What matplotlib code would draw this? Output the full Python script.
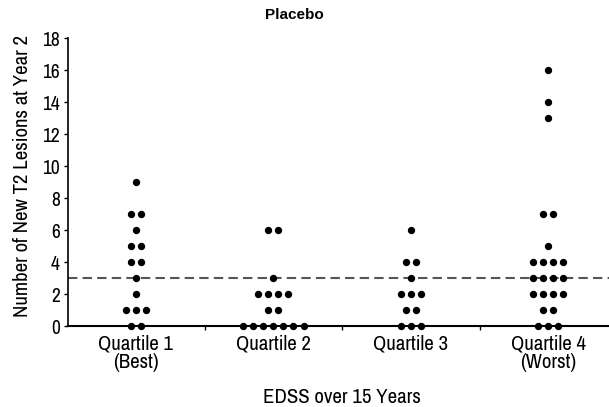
import matplotlib
matplotlib.use("Agg")
import matplotlib.pyplot as plt
from matplotlib import font_manager
import numpy as np
from collections import Counter

narrow = None
for f in font_manager.fontManager.ttflist:
    if 'Narrow' in f.name or 'Condensed' in f.name:
        narrow = f.name
        break

if narrow is not None:
    plt.rcParams['font.family'] = [narrow, 'Liberation Sans', 'DejaVu Sans']
    fs = 15
    yfs = 14
else:
    plt.rcParams['font.family'] = ['Liberation Sans', 'DejaVu Sans']
    fs = 12
    yfs = 11

categories = ["Quartile 1\n(Best)", "Quartile 2", "Quartile 3", "Quartile 4\n(Worst)"]
q1 = [9, 7, 7, 6, 5, 5, 4, 4, 3, 2, 1, 1, 1, 0, 0]
q2 = [6, 6, 3, 2, 2, 2, 2, 1, 1, 0, 0, 0, 0, 0, 0, 0]
q3 = [6, 4, 4, 3, 2, 2, 2, 1, 1, 0, 0, 0]
q4 = [16, 14, 13, 7, 7, 5, 4, 4, 4, 4, 3, 3, 3, 3, 2, 2, 2, 2, 1, 1, 0, 0, 0]
groups = [q1, q2, q3, q4]
reference_line = 3
yticks = list(range(0, 19, 2))

fig = plt.figure(figsize=(6.09, 4.07), dpi=100)
ax = fig.add_axes([0.1117, 0.199, 0.888, 0.7076])

spacing = 0.073
for gi, vals in enumerate(groups):
    center = gi + 1
    counts = Counter(vals)
    xs, ys = [], []
    for v, n in counts.items():
        for i in range(n):
            xs.append(center + (i - (n - 1) / 2) * spacing)
            ys.append(v)
    ax.plot(xs, ys, 'o', color='black', markersize=5.3, markeredgewidth=0, zorder=3, clip_on=False)

ax.axhline(reference_line, color='#555555', linestyle=(0, (4.5, 2.5)), linewidth=1.5, zorder=2)

ax.set_xlim(0.506, 4.44)
ax.set_ylim(0, 18)
ax.set_yticks(yticks)
ax.set_yticklabels([str(t) for t in yticks], fontsize=yfs)
ax.set_xticks([1, 2, 3, 4])
ax.set_xticklabels(categories, fontsize=fs, linespacing=0.95)
ax.tick_params(axis='x', length=0, pad=6)
ax.set_xticks([1.5, 2.5, 3.5], minor=True)
ax.tick_params(axis='x', which='minor', length=3, width=1, direction='out')
ax.tick_params(axis='y', length=3, width=1, direction='out', pad=3)

for s in ['top', 'right']:
    ax.spines[s].set_visible(False)
ax.spines['left'].set_linewidth(1.2)
ax.spines['bottom'].set_linewidth(1.5)

ax.set_ylabel("Number of New T2 Lesions at Year 2", fontsize=fs)
ax.yaxis.set_label_coords((22 - 68) / 541, (326 - 176) / 288)
ax.yaxis.label.set_va('center')
ax.set_xlabel("EDSS over 15 Years", fontsize=fs)
ax.xaxis.set_label_coords((342 - 68) / 541, -(397 - 326) / 288)
ax.xaxis.label.set_va('center')
fig.text(0.483, 0.963, "Placebo", ha='center', va='center', fontsize=11,
         fontweight='bold', family=['Liberation Sans', 'DejaVu Sans'])

fig.savefig("out.png", dpi=100)
